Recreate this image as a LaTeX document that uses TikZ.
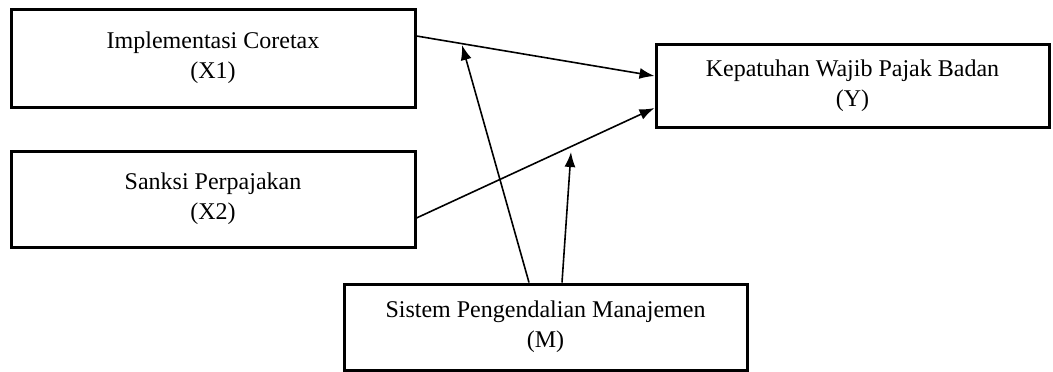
\documentclass[tikz,border=0pt]{standalone}
\usepackage{fontspec}
\setmainfont{Liberation Serif}
\usetikzlibrary{arrows.meta}

\tikzset{
  varbox/.style={draw=black, line width=3pt, align=center, inner sep=0pt,
    font=\fontsize{24}{30}\selectfont},
  path arrow/.style={line width=1.6pt, -{Latex[length=15pt,width=11pt]}}
}

\begin{document}
\begin{tikzpicture}[x=1pt,y=-1pt]
\useasboundingbox (0,0) rectangle (1053,372);
% variables
\node[varbox, minimum width=404pt, minimum height=98pt] (X1) at (213,58) {Implementasi Coretax\\(X1)};
\node[varbox, minimum width=404pt, minimum height=96pt] (X2) at (213,199) {Sanksi Perpajakan\\(X2)};
\node[varbox, minimum width=393pt, minimum height=83pt] (Y) at (852.5,85.5) {Kepatuhan Wajib Pajak Badan\\(Y)};
\node[varbox, minimum width=403pt, minimum height=86pt] (M) at (545.5,327) {Sistem Pengendalian Manajemen\\(M)};
% direct paths
\draw[path arrow] ([yshift=22pt]X1.east) -- ([yshift=9.5pt]Y.west);
\draw[path arrow] ([yshift=-19pt]X2.east) -- ([yshift=-22.5pt]Y.west);
% moderation
\coordinate (mod1) at (462,45);
\coordinate (mod2) at (571,152);
\draw[path arrow] ([xshift=-16.5pt]M.north) -- (mod1);
\draw[path arrow] ([xshift=16.5pt]M.north) -- (mod2);
\end{tikzpicture}
\end{document}
